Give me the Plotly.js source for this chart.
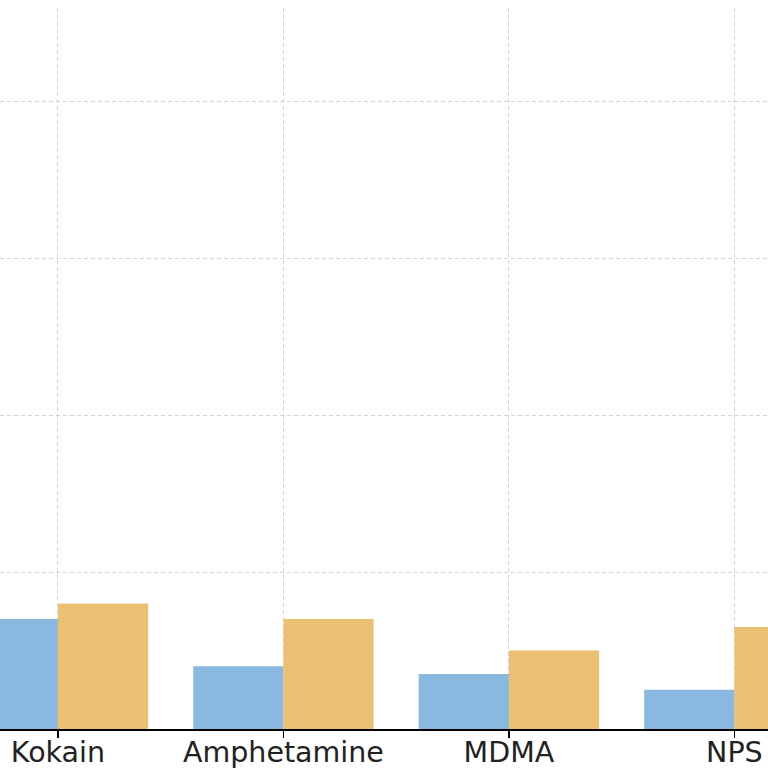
<!DOCTYPE html>
<html>
<head>
<meta charset="utf-8">
<script src="https://cdn.plot.ly/plotly-3.0.1.min.js"></script>
<style>html,body{margin:0;padding:0;background:#fff;}#chart{width:768px;height:768px;}</style>
</head>
<body>
<div id="chart"></div>
<script>
const categories = ["Kokain", "Amphetamine", "MDMA", "NPS"];
const seriesA = [1.4, 0.8, 0.7, 0.5];
const seriesB = [1.6, 1.4, 1.0, 1.3];

const traces = [
  {type: "bar", x: categories, y: seriesA, marker: {color: "#89B9E1"}, name: "A", offsetgroup: "a"},
  {type: "bar", x: categories, y: seriesB, marker: {color: "#EBC072"}, name: "B", offsetgroup: "b"}
];

const layout = {
  width: 768, height: 768,
  margin: {l: 0, r: 0, t: 8, b: 39, pad: 0},
  paper_bgcolor: "#ffffff", plot_bgcolor: "#ffffff",
  showlegend: false,
  barmode: "group", bargap: 0.2, bargroupgap: 0,
  font: {family: "DejaVu Sans", size: 28.5, color: "#222222"},
  xaxis: {
    type: "category",
    range: [-0.257, 3.149],
    showgrid: true, gridcolor: "#d4d4d4", griddash: "4px,3px", gridwidth: 1,
    showline: true, linecolor: "#000000", linewidth: 1.5,
    ticks: "outside", ticklen: 7, tickwidth: 1.2, tickcolor: "#000000",
    tickfont: {family: "DejaVu Sans", size: 28.5, color: "#222222"},
    ticklabelstandoff: -10,
    zeroline: false
  },
  yaxis: {
    range: [0, 9.185],
    dtick: 2, tick0: 0,
    showgrid: true, gridcolor: "#d4d4d4", griddash: "4px,3px", gridwidth: 1,
    showticklabels: false, ticks: "",
    zeroline: false, showline: false
  }
};

Plotly.newPlot("chart", traces, layout, {displayModeBar: false, staticPlot: true});
</script>
</body>
</html>
